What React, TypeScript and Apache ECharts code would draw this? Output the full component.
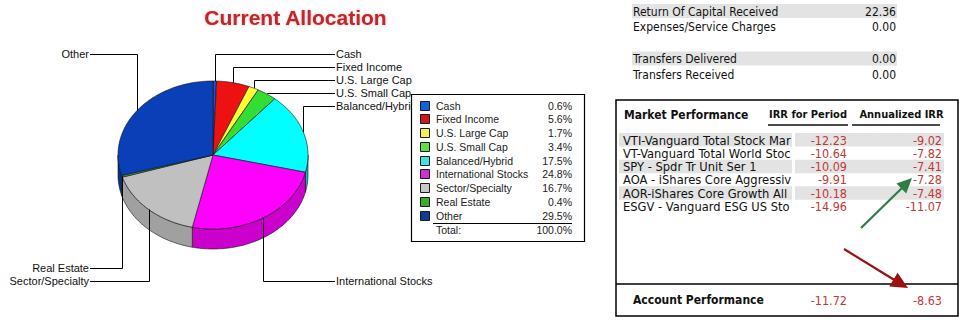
import React, { useEffect, useRef } from "react";
import * as echarts from "echarts";

// ---------- data ----------
const categories = [
  "Cash",
  "Fixed Income",
  "U.S. Large Cap",
  "U.S. Small Cap",
  "Balanced/Hybrid",
  "International Stocks",
  "Sector/Specialty",
  "Real Estate",
  "Other",
];
const allocation = [0.6, 5.6, 1.7, 3.4, 17.5, 24.8, 16.7, 0.4, 29.5];
const totalLabel = "100.0%";

const capitalRows = [
  "Return Of Capital Received",
  "Expenses/Service Charges",
  "",
  "Transfers Delivered",
  "Transfers Received",
];
const capitalValues = ["22.36", "0.00", "", "0.00", "0.00"];

const funds = [
  "VTI-Vanguard Total Stock Market",
  "VT-Vanguard Total World Stock",
  "SPY - Spdr Tr Unit Ser 1",
  "AOA - iShares Core Aggressive Allocation",
  "AOR-iShares Core Growth Allocation",
  "ESGV - Vanguard ESG US Stock",
];
const irrPeriod = [-12.23, -10.64, -10.09, -9.91, -10.18, -14.96];
const irrAnnualized = [-9.02, -7.82, -7.41, -7.28, -7.48, -11.07];
const accountIrrPeriod = -11.72;
const accountIrrAnnualized = -8.63;

// ---------- styles ----------
const topColors = ["#1a4fd0", "#ee1111", "#ffff33", "#33dd33", "#00ffff", "#ff00ff", "#c0c0c0", "#339933", "#0a3fb8"];
const sideColors = ["#103a9c", "#b00000", "#c0c000", "#20a020", "#00c0c0", "#cc00cc", "#a0a0a0", "#227722", "#082f8c"];
const legendColors = ["#1560d8", "#d01818", "#f4f050", "#5ee040", "#44e0e0", "#d030d0", "#c8c8c8", "#40a830", "#143c8c"];

const F_LEFT = '"Liberation Sans", Arial, sans-serif';
const F_RIGHT = '"DejaVu Sans Condensed", "DejaVu Sans", sans-serif';
const RED = "#c23838";

// pie geometry
const CX = 213, CY = 155, RX = 95, RY = 74, DEPTH = 20;
const LABEL_TOP = 54, LABEL_BOTTOM = 281, LABEL_STEP = 13, LABEL_RIGHT_X = 336, LABEL_LEFT_X = 89;

const total = allocation.reduce((a, b) => a + b, 0);
const starts: number[] = [];
{
  let acc = 0;
  allocation.forEach((v) => {
    starts.push((acc / total) * 360);
    acc += v;
  });
}
const mids = allocation.map((v, i) => starts[i] + (v / total) * 180);

const pt = (deg: number, dy = 0): number[] => {
  const r = (deg * Math.PI) / 180;
  return [CX + RX * Math.sin(r), CY - RY * Math.cos(r) + dy];
};
const arc = (a0: number, a1: number, dy = 0): number[][] => {
  const out: number[][] = [];
  const n = Math.max(2, Math.ceil(Math.abs(a1 - a0) / 1.5));
  for (let k = 0; k <= n; k++) out.push(pt(a0 + ((a1 - a0) * k) / n, dy));
  return out;
};

// label layout: stack labels from the top / bottom on each side
const labelY: number[] = new Array(allocation.length).fill(0);
{
  const groups: Record<string, number[]> = { ru: [], lu: [], rl: [], ll: [] };
  mids.forEach((m, i) => {
    const right = m < 180;
    const upper = m < 90 || m > 270;
    groups[(right ? "r" : "l") + (upper ? "u" : "l")].push(i);
  });
  const distTop = (m: number) => Math.min(m, 360 - m);
  const distBot = (m: number) => Math.abs(180 - m);
  ["ru", "lu"].forEach((k) => {
    groups[k].sort((a, b) => distTop(mids[a]) - distTop(mids[b])).forEach((i, j) => (labelY[i] = LABEL_TOP + j * LABEL_STEP));
  });
  ["rl", "ll"].forEach((k) => {
    groups[k].sort((a, b) => distBot(mids[a]) - distBot(mids[b])).forEach((i, j) => (labelY[i] = LABEL_BOTTOM - j * LABEL_STEP));
  });
}

const txt = (x: number, y: number, text: string, o: any = {}) => {
  const style: any = {
    text,
    font: o.font ?? `11px ${F_LEFT}`,
    fill: o.fill ?? "#111",
    align: o.align ?? "left",
    textAlign: o.align ?? "left",
    verticalAlign: "middle",
    textVerticalAlign: "middle",
  };
  if (o.width) {
    style.width = o.width;
    style.overflow = "truncate";
    style.ellipsis = "";
  }
  return { type: "text", x, y, z: o.z ?? 10, style };
};

function buildGraphic() {
  const g: any[] = [];
  // title
  g.push({
    type: "text",
    x: 295.5,
    y: 17,
    z: 10,
    style: {
      text: "Current Allocation",
      font: `bold 21px ${F_LEFT}`,
      fill: "#c1262c",
      align: "center",
      textAlign: "center",
      verticalAlign: "middle",
      textVerticalAlign: "middle",
      textShadowColor: "rgba(193,38,44,0.35)",
      textShadowBlur: 2,
    },
  });

  // legend table
  g.push({ type: "rect", z: 10, shape: { x: 411.5, y: 94.5, width: 173, height: 147 }, style: { fill: "#fff", stroke: "#000", lineWidth: 1.2 } });
  categories.forEach((c, i) => {
    const y = 105.7 + i * 13.75;
    g.push({ type: "rect", z: 11, shape: { x: 420.5, y: Math.round(y) - 4.5, width: 9, height: 9 }, style: { fill: legendColors[i], stroke: "#1a1a1a", lineWidth: 1 } });
    g.push(txt(436, y, c, { font: `10.5px ${F_LEFT}`, fill: "#222", z: 11 }));
    g.push(txt(572, y, allocation[i].toFixed(1) + "%", { font: `10.5px ${F_LEFT}`, fill: "#222", align: "right", z: 11 }));
  });
  g.push({ type: "line", z: 11, shape: { x1: 433, y1: 223.5, x2: 572, y2: 223.5 }, style: { stroke: "#000", lineWidth: 1 } });
  g.push(txt(436, 230, "Total:", { font: `10.5px ${F_LEFT}`, fill: "#222", z: 11 }));
  g.push(txt(572, 230, totalLabel, { font: `10.5px ${F_LEFT}`, fill: "#222", align: "right", z: 11 }));

  // capital table
  const capY = [11.5, 27.3, 43.1, 59, 75];
  capitalRows.forEach((r, i) => {
    if (i === 0 || i === 3) {
      g.push({ type: "rect", z: 9, shape: { x: 632, y: capY[i] - 7.5, width: 265, height: 14 }, style: { fill: "#e3e3e3" } });
    }
    if (r) {
      g.push(txt(633, capY[i], r, { font: `12px ${F_RIGHT}`, fill: "#111" }));
      g.push(txt(896, capY[i], capitalValues[i], { font: `12px ${F_RIGHT}`, fill: "#111", align: "right" }));
    }
  });

  // market performance box
  g.push({ type: "rect", z: 8, shape: { x: 616, y: 100, width: 342, height: 216 }, style: { fill: "#fff", stroke: "#000", lineWidth: 1.5 } });
  g.push({ type: "line", z: 12, shape: { x1: 616, y1: 284, x2: 958, y2: 284 }, style: { stroke: "#000", lineWidth: 1.5 } });
  g.push(txt(624, 115, "Market Performance", { font: `bold 12px ${F_RIGHT}`, fill: "#111" }));
  g.push(txt(808, 114, "IRR for Period", { font: `bold 11px ${F_RIGHT}`, fill: "#111", align: "center" }));
  g.push(txt(901.5, 114, "Annualized IRR", { font: `bold 11px ${F_RIGHT}`, fill: "#111", align: "center" }));
  g.push({ type: "line", z: 12, shape: { x1: 768, y1: 125, x2: 848, y2: 125 }, style: { stroke: "#111", lineWidth: 1.3 } });
  g.push({ type: "line", z: 12, shape: { x1: 852, y1: 125, x2: 940, y2: 125 }, style: { stroke: "#111", lineWidth: 1.3 } });

  const rowY = (i: number) => 140 + i * 13.33;
  funds.forEach((f, i) => {
    const y = rowY(i);
    if (i % 2 === 0) {
      g.push({ type: "rect", z: 9, shape: { x: 619, y: y - 7, width: 173, height: 13.5 }, style: { fill: "#e3e3e3" } });
      g.push({ type: "rect", z: 9, shape: { x: 795, y: y - 7, width: 149, height: 13.5 }, style: { fill: "#e3e3e3" } });
    }
    g.push(txt(623, y, f, { font: `12.8px ${F_RIGHT}`, fill: "#111", z: 10, width: 172 }));
    g.push(txt(847, y, irrPeriod[i].toFixed(2), { font: `12.5px ${F_RIGHT}`, fill: RED, align: "right", z: 12 }));
    g.push(txt(942, y, irrAnnualized[i].toFixed(2), { font: `12.5px ${F_RIGHT}`, fill: RED, align: "right", z: 12 }));
  });

  g.push(txt(633, 300, "Account Performance", { font: `bold 12px ${F_RIGHT}`, fill: "#111", z: 12 }));
  g.push(txt(847, 300, accountIrrPeriod.toFixed(2), { font: `12.5px ${F_RIGHT}`, fill: RED, align: "right", z: 12 }));
  g.push(txt(942, 300, accountIrrAnnualized.toFixed(2), { font: `12.5px ${F_RIGHT}`, fill: RED, align: "right", z: 12 }));

  // arrows
  g.push({ type: "line", z: 13, shape: { x1: 861, y1: 228, x2: 903, y2: 187 }, style: { stroke: "#2e7d46", lineWidth: 2.2 } });
  g.push({ type: "polygon", z: 13, shape: { points: [[912, 178], [906.2, 193.5], [896.4, 183.5]] }, style: { fill: "#2e7d46" } });
  g.push({ type: "line", z: 13, shape: { x1: 844, y1: 249, x2: 896, y2: 281 }, style: { stroke: "#9b1010", lineWidth: 2.2 } });
  g.push({ type: "polygon", z: 13, shape: { points: [[908, 288], [889.2, 286.4], [897.6, 272.8]] }, style: { fill: "#9b1010" } });
  return g;
}

function renderSlice(params: any, api: any) {
  const i = params.dataIndex;
  const v = api.value(0) as number;
  const a0 = starts[i];
  const a1 = a0 + (v / total) * 360;
  const children: any[] = [];

  // side wall (front half only)
  const lo = Math.max(a0, 90);
  const hi = Math.min(a1, 270);
  if (lo < hi) {
    const pts = arc(lo, hi).concat(arc(hi, lo, DEPTH));
    children.push({ type: "polygon", z2: 1, shape: { points: pts }, style: { fill: sideColors[i], stroke: "#111", lineWidth: 0.6 } });
  }
  // top face
  const topPts = [[CX, CY]].concat(arc(a0, a1));
  children.push({ type: "polygon", z2: 2, shape: { points: topPts }, style: { fill: topColors[i], stroke: "#111", lineWidth: 0.6 } });

  // label + leader line
  const m = mids[i];
  const [ax, ay] = pt(m);
  const ly = labelY[i] + 0.5;
  const right = m < 180;
  const axr = Math.round(ax) + 0.5;
  const lx = right ? LABEL_RIGHT_X - 1 : LABEL_LEFT_X + 1;
  children.push({
    type: "polyline",
    z2: 3,
    shape: { points: [[lx, ly], [axr, ly], [axr, ay]] },
    style: { stroke: "#000", lineWidth: 1, fill: null },
  });
  children.push({
    type: "text",
    z2: 4,
    x: right ? LABEL_RIGHT_X : LABEL_LEFT_X,
    y: labelY[i],
    style: {
      text: categories[i],
      font: `11px ${F_LEFT}`,
      fill: "#111",
      align: right ? "left" : "right",
      textAlign: right ? "left" : "right",
      verticalAlign: "middle",
      textVerticalAlign: "middle",
    },
  });
  return { type: "group", children };
}

export default function App() {
  const ref = useRef<HTMLDivElement>(null);
  useEffect(() => {
    if (!ref.current) return;
    const chart = echarts.init(ref.current, null, { renderer: "svg" });
    chart.setOption({
      animation: false,
      backgroundColor: "#ffffff",
      graphic: { elements: buildGraphic() },
      series: [
        {
          type: "custom",
          coordinateSystem: "none",
          silent: true,
          z: 2,
          data: allocation.map((v, i) => ({ name: categories[i], value: [v, i] })),
          renderItem: renderSlice,
        },
      ],
    });
    return () => chart.dispose();
  }, []);
  return (
    <div
      ref={ref}
      style={{ position: "absolute", left: 0, top: 0, width: 966, height: 323, background: "#fff" }}
    />
  );
}
